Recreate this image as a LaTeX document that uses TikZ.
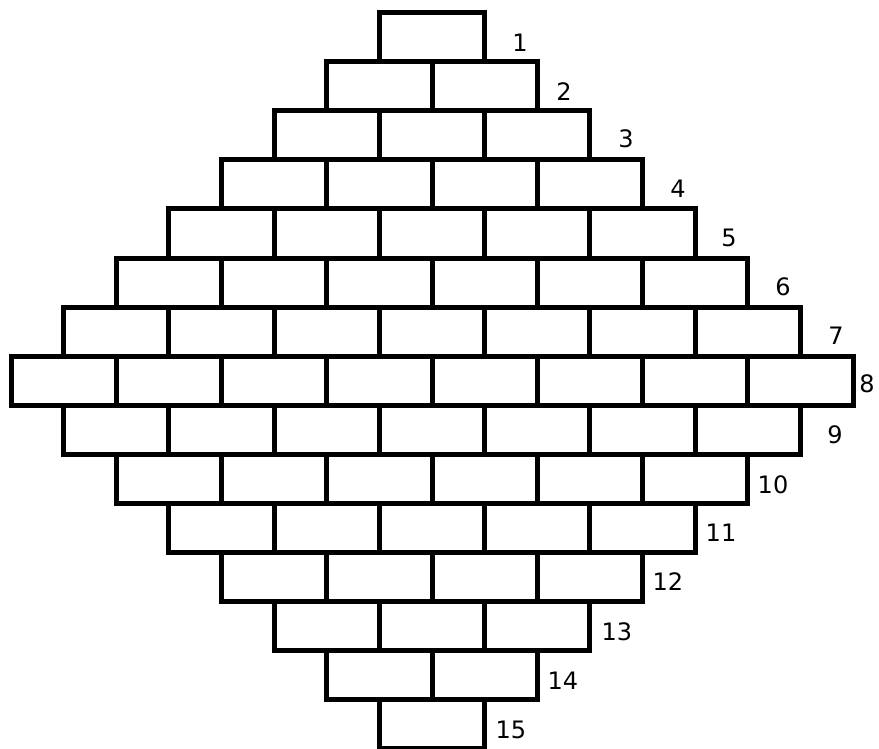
\documentclass[tikz,border=0pt]{standalone}
\usepackage{fontspec}
\setmainfont{DejaVu Sans}
\usepackage{tikz}
\usetikzlibrary{positioning,calc}

\tikzset{
  brick/.style={draw=black,line width=5pt},
  rowlabel/.style={font=\fontsize{24}{28}\selectfont,inner sep=0pt}
}

\begin{document}
\begin{tikzpicture}[x=1pt,y=-1pt]
  \useasboundingbox (0,0) rectangle (879,749); % 画像の大きさ
  % レンガの列（1段目から15段目まで）
  \foreach \k in {1,...,15} {
    \pgfmathtruncatemacro{\n}{8-abs(\k-8)}
    \foreach \i in {1,...,\n} {
      \draw[brick] ({432+(\i-1-\n/2)*105.25},{13+(\k-1)*49}) rectangle ++(105.25,49);
    }
  }
  % 段の番号
  \foreach \k/\lx/\ly in {1/520/43,2/564/92,3/626/139,4/678/189,5/729/238,
      6/783/287,7/836/336,8/867/384,9/835/435,10/773/485,11/721/533,
      12/668/582,13/617/632,14/563/681,15/511/730} {
    \node[rowlabel] (l\k) at (\lx,\ly) {\k};
  }
\end{tikzpicture}
\end{document}
